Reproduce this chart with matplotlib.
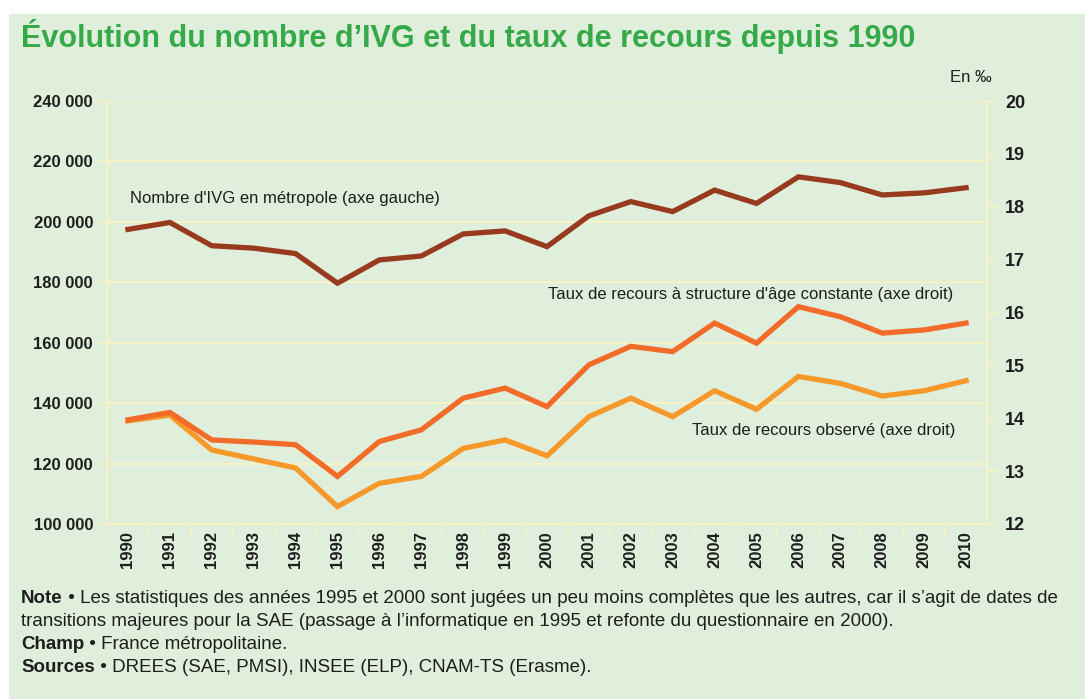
import matplotlib
matplotlib.use("Agg")
import matplotlib.pyplot as plt
from matplotlib.patches import Rectangle

# ---------------- data ----------------
years = [str(y) for y in range(1990, 2011)]
ivg = [197500, 199800, 192100, 191300, 189500, 179700, 187400, 188700, 196000, 197000,
       191800, 202000, 206700, 203400, 210500, 206100, 214900, 213000, 208900, 209600, 211300]
taux_age_constant = [13.97, 14.11, 13.59, 13.55, 13.50, 12.90, 13.56, 13.78, 14.38, 14.57,
                     14.22, 15.01, 15.36, 15.26, 15.80, 15.42, 16.11, 15.92, 15.61, 15.67, 15.80]
taux_observe = [13.95, 14.06, 13.40, 13.23, 13.06, 12.33, 12.77, 12.90, 13.43, 13.59,
                13.29, 14.03, 14.38, 14.03, 14.52, 14.17, 14.79, 14.66, 14.42, 14.52, 14.71]
left_ticks = [100000, 120000, 140000, 160000, 180000, 200000, 220000, 240000]
left_tick_labels = ["100 000", "120 000", "140 000", "160 000", "180 000", "200 000", "220 000", "240 000"]
right_ticks = [12, 13, 14, 15, 16, 17, 18, 19, 20]

title = "Évolution du nombre d’IVG et du taux de recours depuis 1990"
lab_ivg = "Nombre d'IVG en métropole (axe gauche)"
lab_age = "Taux de recours à structure d'âge constante (axe droit)"
lab_obs = "Taux de recours observé (axe droit)"
unit = "En ‰"
notes = [
    ("Note", " • Les statistiques des années 1995 et 2000 sont jugées un peu moins complètes que les autres, car il s’agit de dates de"),
    ("", "transitions majeures pour la SAE (passage à l’informatique en 1995 et refonte du questionnaire en 2000)."),
    ("Champ", " • France métropolitaine."),
    ("Sources", " • DREES (SAE, PMSI), INSEE (ELP), CNAM-TS (Erasme)."),
]

# ---------------- style ----------------
plt.rcParams['font.family'] = ["Liberation Sans", "DejaVu Sans"]

BG = "#e0eedc"
GRID = "#f6f3c6"
C_IVG = "#983a1d"
C_AGE = "#f26b28"
C_OBS = "#f7982b"
TXT = "#1e1e1e"

W, H = 1085, 699
fig = plt.figure(figsize=(W / 100, H / 100), dpi=100)
fig.patch.set_facecolor("white")
fig.patches.append(Rectangle((9 / W, 0), 1 - 9 / W, 1 - 14 / H, transform=fig.transFigure,
                             facecolor=BG, edgecolor="none", zorder=-10))

def fx(px):
    return px / W

def fy(py):
    return 1 - py / H

L, R, T, B = 107, 987, 101, 524
ax = fig.add_axes([fx(L), fy(B), (R - L) / W, (B - T) / H])
ax.set_facecolor(BG)
x = list(range(len(years)))

ax.set_xlim(-0.5, len(years) - 0.5)
ax.set_ylim(100000, 240000)
ax.set_yticks(left_ticks)
ax.set_yticklabels(left_tick_labels, fontweight="bold", fontsize=12, color=TXT)
ax.yaxis.grid(True, color=GRID, linewidth=1.6)
ax.set_axisbelow(True)
ax.set_xticks([i + 0.5 for i in x[:-1]])
ax.set_xticklabels([])
ax.set_xticks(x, minor=True)
ax.set_xticklabels(years, minor=True, rotation=90, fontweight="bold", fontsize=12, color=TXT)
ax.tick_params(axis="x", which="major", length=8, color=GRID, width=1.4, direction="out")
ax.tick_params(axis="x", which="minor", length=0, pad=5)
ax.tick_params(axis="y", length=6, color=GRID, width=1.4, pad=4)
for s in ["left", "right", "bottom", "top"]:
    ax.spines[s].set_color(GRID)
    ax.spines[s].set_linewidth(1.6)
ax.spines["top"].set_visible(False)

ax.plot(x, ivg, color=C_IVG, linewidth=3.8, solid_joinstyle="miter", zorder=3)

ax2 = ax.twinx()
ax2.set_ylim(12, 20)
ax2.set_yticks(right_ticks)
ax2.set_yticklabels([str(t) for t in right_ticks], fontweight="bold", fontsize=13, color=TXT)
ax2.tick_params(axis="y", length=7, color=GRID, width=1.4, pad=6)
for s in ["left", "right", "bottom", "top"]:
    ax2.spines[s].set_color(GRID)
    ax2.spines[s].set_linewidth(1.6)
ax2.spines["top"].set_visible(False)
ax2.plot(x, taux_observe, color=C_OBS, linewidth=3.8, solid_joinstyle="miter", zorder=3)
ax2.plot(x, taux_age_constant, color=C_AGE, linewidth=3.8, solid_joinstyle="miter", zorder=4)

# ---------------- texts ----------------
fig.text(fx(21), fy(47), title, fontsize=22, fontweight="bold", color="#36a948",
         ha="left", va="baseline")
fig.text(fx(992), fy(78), unit, fontsize=12, color=TXT, ha="right", va="center")
fig.text(fx(130), fy(199), lab_ivg, fontsize=12, color=TXT, ha="left", va="center")
fig.text(fx(548), fy(294), lab_age, fontsize=12, color=TXT, ha="left", va="center")
fig.text(fx(692), fy(430), lab_obs, fontsize=12, color=TXT, ha="left", va="center")

renderer = fig.canvas.get_renderer()
note_base = [603, 626, 649, 672]
for (bold, rest), yy in zip(notes, note_base):
    xpos = 21
    if bold:
        t = fig.text(fx(xpos), fy(yy), bold, fontsize=13.5, fontweight="bold", color=TXT,
                     ha="left", va="baseline")
        bb = t.get_window_extent(renderer)
        xpos = bb.x1
    fig.text(fx(xpos), fy(yy), rest, fontsize=13.5, color=TXT, ha="left", va="baseline")

fig.savefig("out.png", dpi=100, facecolor=fig.get_facecolor())
